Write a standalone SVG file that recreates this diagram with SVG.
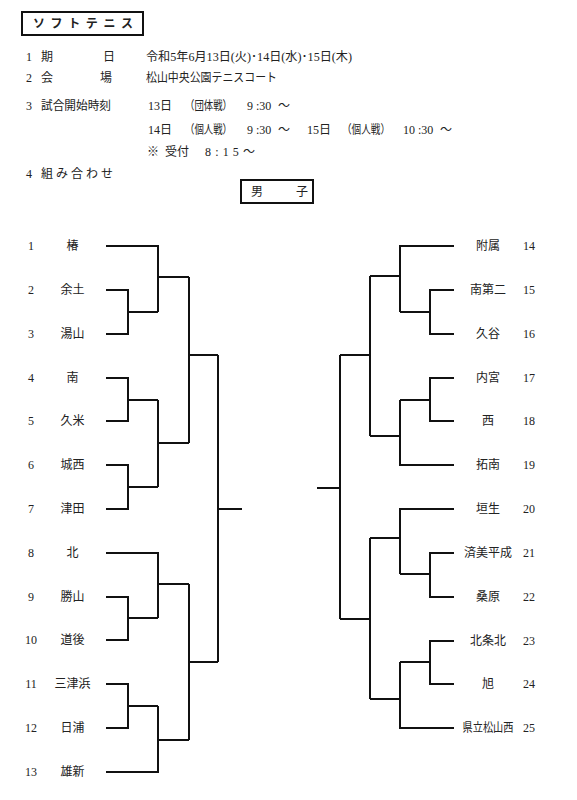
<svg xmlns="http://www.w3.org/2000/svg" width="577" height="800" viewBox="0 0 577 800">
<style>
text{font-family:"Liberation Serif","Noto Sans CJK JP",serif;font-size:12px;fill:#222}
.c{text-anchor:middle}
.b{font-weight:bold;font-family:"Noto Sans CJK JP",sans-serif}
.box{fill:none;stroke:#111;stroke-width:2}
.ln{fill:none;stroke:#111;stroke-width:2;stroke-linejoin:miter}
</style>
<rect width="577" height="800" fill="#fff"/>
<g id="header">
<rect class="box" x="22" y="12" width="121" height="23"/>
<text class="b" x="33 50.6 68.2 85.8 103.4 121" y="28">ソフトテニス</text>
<text x="26" y="61">1</text><text x="41" y="61">期</text><text x="103" y="61">日</text>
<text x="146" y="61" textLength="206" lengthAdjust="spacingAndGlyphs">令和5年6月13日(火)･14日(水)･15日(木)</text>
<text x="26" y="82">2</text><text x="41" y="82">会</text><text x="100" y="82">場</text>
<text x="146" y="82" textLength="131" lengthAdjust="spacingAndGlyphs">松山中央公園テニスコート</text>
<text x="26" y="110">3</text><text x="41" y="110" textLength="70" lengthAdjust="spacingAndGlyphs">試合開始時刻</text>
<text x="148" y="110">13日</text><text x="185" y="110" textLength="47" lengthAdjust="spacingAndGlyphs">（団体戦）</text><text x="247" y="110">9 :30</text><text x="278" y="110">～</text>
<text x="148" y="134">14日</text><text x="185" y="134" textLength="47" lengthAdjust="spacingAndGlyphs">（個人戦）</text><text x="247" y="134">9 :30</text><text x="278" y="134">～</text>
<text x="307" y="134">15日</text><text x="342" y="134" textLength="48" lengthAdjust="spacingAndGlyphs">（個人戦）</text><text x="403" y="134">10 :30</text><text x="440" y="134">～</text>
<text x="147" y="156">※</text><text x="165" y="156">受付</text><text x="205" y="156" textLength="50" lengthAdjust="spacing">8 : 1 5 ～</text>
<text x="26" y="178">4</text><text x="41" y="178" textLength="72" lengthAdjust="spacing">組 み 合 わ せ</text>
<rect class="box" x="241" y="180" width="72" height="23"/>
<text class="c" x="257" y="196">男</text><text class="c" x="302" y="196">子</text>
</g>
<g id="left-teams">
<g id="t1"><text class="c" x="31" y="250">1</text><text class="c" x="72.5" y="250">椿</text></g>
<g id="t2"><text class="c" x="31" y="294">2</text><text class="c" x="72.5" y="294">余土</text></g>
<g id="t3"><text class="c" x="31" y="338">3</text><text class="c" x="72.5" y="338">湯山</text></g>
<g id="t4"><text class="c" x="31" y="382">4</text><text class="c" x="72.5" y="382">南</text></g>
<g id="t5"><text class="c" x="31" y="425">5</text><text class="c" x="72.5" y="425">久米</text></g>
<g id="t6"><text class="c" x="31" y="469">6</text><text class="c" x="72.5" y="469">城西</text></g>
<g id="t7"><text class="c" x="31" y="513">7</text><text class="c" x="72.5" y="513">津田</text></g>
<g id="t8"><text class="c" x="31" y="557">8</text><text class="c" x="72.5" y="557">北</text></g>
<g id="t9"><text class="c" x="31" y="601">9</text><text class="c" x="72.5" y="601">勝山</text></g>
<g id="t10"><text class="c" x="31" y="644">10</text><text class="c" x="72.5" y="644">道後</text></g>
<g id="t11"><text class="c" x="31" y="688">11</text><text class="c" x="72.5" y="688">三津浜</text></g>
<g id="t12"><text class="c" x="31" y="732">12</text><text class="c" x="72.5" y="732">日浦</text></g>
<g id="t13"><text class="c" x="31" y="776">13</text><text class="c" x="72.5" y="776">雄新</text></g>
</g>
<g id="right-teams">
<g id="t14"><text class="c" x="488" y="250">附属</text><text class="c" x="529" y="250">14</text></g>
<g id="t15"><text class="c" x="488" y="294">南第二</text><text class="c" x="529" y="294">15</text></g>
<g id="t16"><text class="c" x="488" y="338">久谷</text><text class="c" x="529" y="338">16</text></g>
<g id="t17"><text class="c" x="488" y="382">内宮</text><text class="c" x="529" y="382">17</text></g>
<g id="t18"><text class="c" x="488" y="425">西</text><text class="c" x="529" y="425">18</text></g>
<g id="t19"><text class="c" x="488" y="469">拓南</text><text class="c" x="529" y="469">19</text></g>
<g id="t20"><text class="c" x="488" y="513">垣生</text><text class="c" x="529" y="513">20</text></g>
<g id="t21"><text class="c" x="488" y="557">済美平成</text><text class="c" x="529" y="557">21</text></g>
<g id="t22"><text class="c" x="488" y="601">桑原</text><text class="c" x="529" y="601">22</text></g>
<g id="t23"><text class="c" x="488" y="645">北条北</text><text class="c" x="529" y="645">23</text></g>
<g id="t24"><text class="c" x="488" y="688">旭</text><text class="c" x="529" y="688">24</text></g>
<g id="t25"><text class="c" x="488" y="732" textLength="51" lengthAdjust="spacingAndGlyphs">県立松山西</text><text class="c" x="529" y="732">25</text></g>
</g>
<g id="connectors" class="ln">
<path d="M106,290H128V334H106M128,312H158"/>
<path d="M106,378H128V421H106M128,400H158"/>
<path d="M106,465H128V509H106M128,487H158"/>
<path d="M106,597H128V640H106M128,618H158"/>
<path d="M106,684H128V728H106M128,706H158"/>
<path d="M106,246H158V312M158,277H189"/>
<path d="M158,400V487M158,443H189"/>
<path d="M106,553H158V618M158,584H189"/>
<path d="M158,706V772H106M158,740H189"/>
<path d="M189,277V443M189,355H218"/>
<path d="M189,584V740M189,662H218"/>
<path d="M218,355V662M218,509H242"/>
<path d="M454,290H430V334H454M430,312H400"/>
<path d="M454,378H430V421H454M430,400H400"/>
<path d="M454,553H430V597H454M430,574H400"/>
<path d="M454,641H430V684H454M430,662H400"/>
<path d="M454,246H400V312M400,276H370"/>
<path d="M400,400V465H454M400,436H370"/>
<path d="M454,509H400V574M400,538H370"/>
<path d="M400,662V728H454M400,699H370"/>
<path d="M370,276V436M370,355H340"/>
<path d="M370,538V699M370,619H340"/>
<path d="M340,355V619M340,488H317"/>
</g>
</svg>
